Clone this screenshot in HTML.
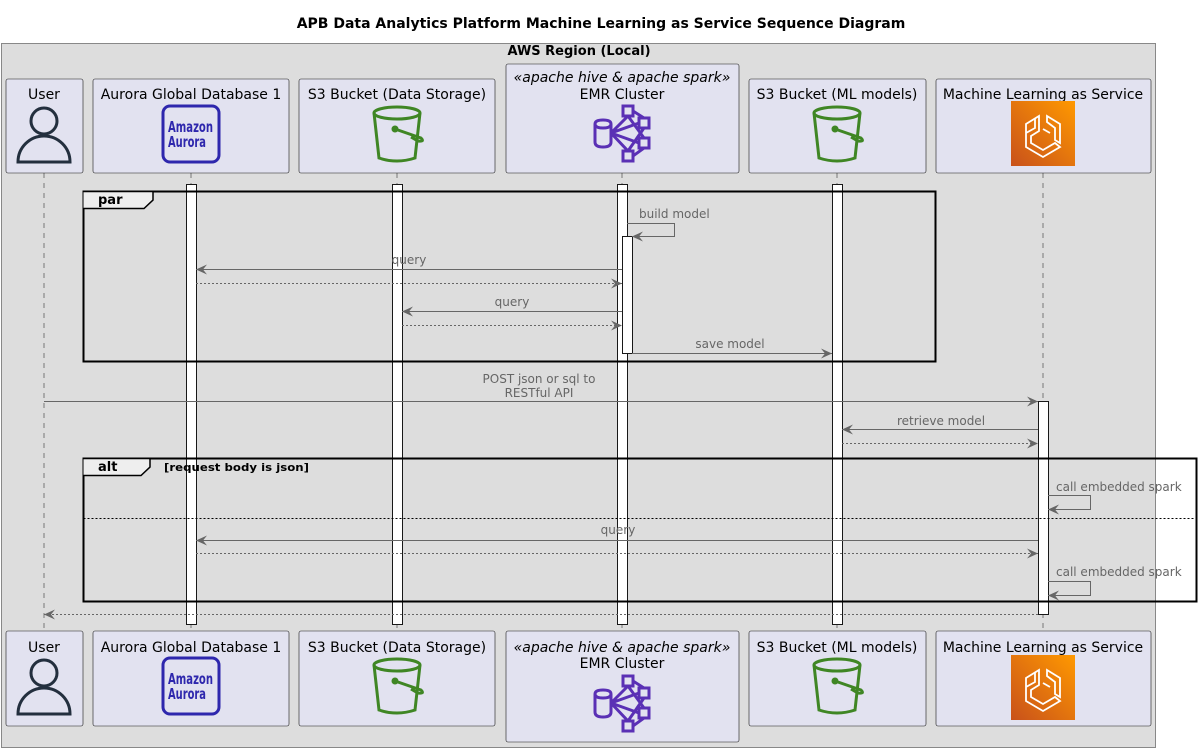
<!DOCTYPE html>
<html><head><meta charset="utf-8"><style>
html,body{margin:0;padding:0;background:#fff;}
svg{display:block;font-family:"DejaVu Sans","Liberation Sans",sans-serif;}
.p{fill:#E2E2F0;stroke:#181818;stroke-width:0.6;}
.pt{font-size:14px;fill:#000;text-anchor:middle;}
.m{stroke:#666;stroke-width:1;fill:none;}
.d{stroke:#666;stroke-width:1;fill:none;stroke-dasharray:2,2;}
.ml{font-size:12px;fill:#666;}
.act{fill:#fff;stroke:#181818;stroke-width:1;}
.ll{stroke:#777;stroke-width:1;stroke-dasharray:5,5;}
</style></head><body>
<svg width="1202" height="752" viewBox="0 0 1202 752" xmlns="http://www.w3.org/2000/svg">
<defs>
<marker id="ah" markerWidth="12" markerHeight="10" refX="11" refY="5" orient="auto" markerUnits="userSpaceOnUse">
<path d="M0,0 L11,5 L0,10 L4,5 Z" fill="#666"/>
</marker>
<linearGradient id="og" x1="0" y1="1" x2="1" y2="0"><stop offset="0" stop-color="#C8511B"/><stop offset="1" stop-color="#FF9900"/></linearGradient>
<g id="user"><circle cx="44" cy="121" r="13" fill="none" stroke="#232F3E" stroke-width="3"/><path d="M18,162 A26,26 0 0 1 70,162 Z" fill="none" stroke="#232F3E" stroke-width="3"/></g>
<g id="bucket" fill="none" stroke="#3F8624" stroke-width="3"><ellipse cx="0" cy="113" rx="23" ry="6"/><path d="M-23,113 L-18,158 Q0,164 18,158 L23,113"/><circle cx="-2" cy="129" r="2" fill="#3F8624"/><path d="M-2,129 L24,138 Q28,142 21,141 L14,137"/></g>
<g id="emr" fill="none" stroke="#5A30B5" stroke-width="3"><path d="M595,124 v18 q0,5 8,5 q8,0 8,-5 v-18 M595,124 q0,-4 8,-4 q8,0 8,4 q0,4 -8,4 q-8,0 -8,-4"/><rect x="623" y="106" width="10" height="10"/><rect x="639" y="118" width="10" height="10"/><rect x="639" y="138" width="10" height="10"/><rect x="623" y="151" width="10" height="10"/><path d="M611,133 L628,116 M611,133 L639,123 M611,133 L639,143 M611,133 L628,151 M628,116 L644,138 M628,151 L644,128 M633,111 L644,118 M633,156 L644,148"/></g>
<g id="ml"><rect x="1011" y="101" width="64" height="65" fill="url(#og)"/><path d="M1035,118 L1035,128 L1026,133 L1026,147 L1043,157 L1060,147 L1055,143 L1043,150 L1031,143 L1031,136 L1039,131 L1039,116 L1026,124 L1026,147" fill="none" stroke="#fff" stroke-width="1.8"/><path d="M1047,116 L1060,124 L1060,143 L1055,140 L1055,128 L1047,122 Z M1043,129 L1050,133" fill="none" stroke="#fff" stroke-width="1.8"/></g>
<g id="aur"><rect x="163" y="106" width="56" height="56" rx="7" fill="none" stroke="#2E27AD" stroke-width="3"/><text x="168" y="132" font-size="15" font-weight="bold" fill="#2E27AD" textLength="45" lengthAdjust="spacingAndGlyphs">Amazon</text><text x="168" y="147" font-size="15" font-weight="bold" fill="#2E27AD" textLength="38" lengthAdjust="spacingAndGlyphs">Aurora</text></g>
</defs>

<text x="601" y="28" font-size="14" font-weight="bold" text-anchor="middle">APB Data Analytics Platform Machine Learning as Service Sequence Diagram</text>
<rect x="1.5" y="43.5" width="1154" height="704" fill="#DDDDDD" stroke="#888" stroke-width="1"/>
<text x="579" y="55" font-size="13" font-weight="bold" text-anchor="middle">AWS Region (Local)</text>

<line class="ll" x1="44" y1="173" x2="44" y2="631"/>
<line class="ll" x1="191" y1="173" x2="191" y2="631"/>
<line class="ll" x1="397" y1="173" x2="397" y2="631"/>
<line class="ll" x1="622" y1="173" x2="622" y2="631"/>
<line class="ll" x1="837" y1="173" x2="837" y2="631"/>
<line class="ll" x1="1043" y1="173" x2="1043" y2="631"/>

<rect class="p" x="6" y="79" width="77" height="94" rx="2"/><text class="pt" x="44" y="99">User</text><use href="#user"/>
<rect class="p" x="93" y="79" width="196" height="94" rx="2"/><text class="pt" x="191" y="99">Aurora Global Database 1</text><use href="#aur"/>
<rect class="p" x="299" y="79" width="196" height="94" rx="2"/><text class="pt" x="397" y="99">S3 Bucket (Data Storage)</text><use href="#bucket" x="397"/>
<rect class="p" x="506" y="64" width="233" height="109" rx="2"/><text class="pt" x="622" y="82" font-style="italic">«apache hive &amp; apache spark»</text><text class="pt" x="622" y="99">EMR Cluster</text><use href="#emr"/>
<rect class="p" x="749" y="79" width="177" height="94" rx="2"/><text class="pt" x="837" y="99">S3 Bucket (ML models)</text><use href="#bucket" x="837"/>
<rect class="p" x="936" y="79" width="215" height="94" rx="2"/><text class="pt" x="1043" y="99">Machine Learning as Service</text><use href="#ml"/>

<rect class="p" x="6" y="631" width="77" height="95" rx="2"/><text class="pt" x="44" y="652">User</text><use href="#user" y="552"/>
<rect class="p" x="93" y="631" width="196" height="95" rx="2"/><text class="pt" x="191" y="652">Aurora Global Database 1</text><use href="#aur" y="552"/>
<rect class="p" x="299" y="631" width="196" height="95" rx="2"/><text class="pt" x="397" y="652">S3 Bucket (Data Storage)</text><use href="#bucket" x="397" y="552"/>
<rect class="p" x="506" y="631" width="233" height="111" rx="2"/><text class="pt" x="622" y="652" font-style="italic">«apache hive &amp; apache spark»</text><text class="pt" x="622" y="668">EMR Cluster</text><use href="#emr" y="570"/>
<rect class="p" x="749" y="631" width="177" height="95" rx="2"/><text class="pt" x="837" y="652">S3 Bucket (ML models)</text><use href="#bucket" x="837" y="552"/>
<rect class="p" x="936" y="631" width="215" height="95" rx="2"/><text class="pt" x="1043" y="652">Machine Learning as Service</text><use href="#ml" y="554"/>

<rect class="act" x="186.5" y="184.5" width="10" height="440"/>
<rect class="act" x="392.5" y="184.5" width="10" height="440"/>
<rect class="act" x="617.5" y="184.5" width="10" height="440"/>
<rect class="act" x="832.5" y="184.5" width="10" height="440"/>
<rect class="act" x="622.5" y="236.5" width="10" height="117"/>
<rect class="act" x="1038.5" y="401.5" width="10" height="213"/>

<rect x="83.5" y="191.5" width="852" height="170" fill="none" stroke="#000" stroke-width="2"/>
<path d="M83.5,191.5 L153,191.5 L153,200 L144,208.5 L83.5,208.5" fill="#EEEEEE" stroke="#000" stroke-width="1.5"/>
<text x="98" y="204" font-size="13" font-weight="bold">par</text>

<path class="m" d="M627,223.5 H674.5 V236.5 H632" marker-end="url(#ah)"/><text class="ml" x="639" y="218">build model</text>
<line class="m" x1="622" y1="269.5" x2="196" y2="269.5" marker-end="url(#ah)"/><text class="ml" x="409" y="264" text-anchor="middle">query</text>
<line class="d" x1="196" y1="283.5" x2="622" y2="283.5" marker-end="url(#ah)"/>
<line class="m" x1="622" y1="311.5" x2="402" y2="311.5" marker-end="url(#ah)"/><text class="ml" x="512" y="306" text-anchor="middle">query</text>
<line class="d" x1="402" y1="325.5" x2="622" y2="325.5" marker-end="url(#ah)"/>
<line class="m" x1="632" y1="353.5" x2="832" y2="353.5" marker-end="url(#ah)"/><text class="ml" x="730" y="348" text-anchor="middle">save model</text>

<line class="m" x1="44" y1="401.5" x2="1038" y2="401.5" marker-end="url(#ah)"/>
<text class="ml" x="539" y="383" text-anchor="middle">POST json or sql to</text><text class="ml" x="539" y="397" text-anchor="middle">RESTful API</text>
<line class="m" x1="1038" y1="429.5" x2="842" y2="429.5" marker-end="url(#ah)"/><text class="ml" x="941" y="425" text-anchor="middle">retrieve model</text>
<line class="d" x1="842" y1="443.5" x2="1038" y2="443.5" marker-end="url(#ah)"/>

<rect x="83.5" y="458.5" width="1113" height="143" fill="none" stroke="#000" stroke-width="2"/>
<path d="M83.5,458.5 L150,458.5 L150,467 L141,475.5 L83.5,475.5" fill="#EEEEEE" stroke="#000" stroke-width="1.5"/>
<text x="98" y="471" font-size="13" font-weight="bold">alt</text>
<text x="164" y="471" font-size="11" font-weight="bold" textLength="145" lengthAdjust="spacingAndGlyphs">[request body is json]</text>
<line x1="83.5" y1="518.5" x2="1196" y2="518.5" stroke="#000" stroke-width="1" stroke-dasharray="2,2"/>

<path class="m" d="M1048,495.5 H1090.5 V509.5 H1048" marker-end="url(#ah)"/><text class="ml" x="1056" y="491">call embedded spark</text>
<line class="m" x1="1038" y1="540.5" x2="196" y2="540.5" marker-end="url(#ah)"/><text class="ml" x="618" y="534" text-anchor="middle">query</text>
<line class="d" x1="196" y1="553.5" x2="1038" y2="553.5" marker-end="url(#ah)"/>
<path class="m" d="M1048,581.5 H1090.5 V595.5 H1048" marker-end="url(#ah)"/><text class="ml" x="1056" y="576">call embedded spark</text>

<line class="d" x1="1038" y1="614.5" x2="44" y2="614.5" marker-end="url(#ah)"/>
</svg>
</body></html>
